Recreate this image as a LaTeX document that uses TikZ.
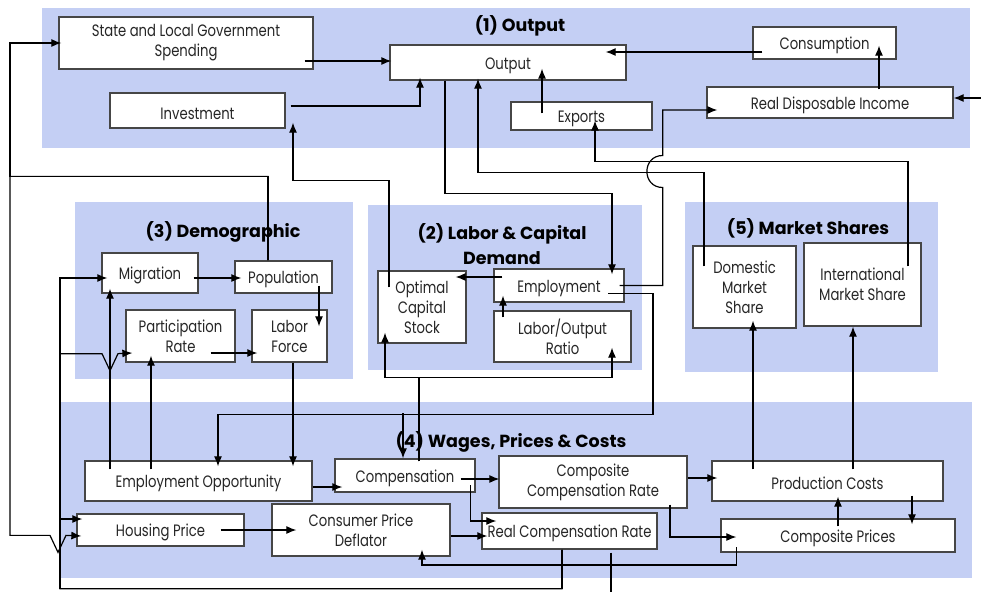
\documentclass[tikz,border=0pt]{standalone}
\usepackage{fontspec}
\setmainfont{Poppins}[FakeStretch=0.8]
\newfontfamily\headfont{Poppins}
\usetikzlibrary{shapes,positioning,calc}
\usetikzlibrary{arrows.meta}
\definecolor{sfondo}{RGB}{196,207,244}
\definecolor{bordo}{RGB}{70,70,70}
\tikzstyle{sector} = [rectangle, fill=sfondo, inner sep=0pt]
\tikzstyle{varbox} = [rectangle, text centered, align=center, draw=bordo, fill=white, line width=1.3pt, inner sep=1pt, text=black!85, font=\fontsize{16.5}{20}\selectfont, execute at begin node={\rule{0pt}{17.5pt}}]
\tikzstyle{heading} = [align=center, font=\headfont\bfseries\fontsize{17.5}{25}\selectfont]
\tikzstyle{arrow} = [line width=1.2pt,-{Latex[length=10pt,width=8pt]}]

\begin{document}
\begin{tikzpicture}[x=1pt,y=-1pt]
	\useasboundingbox (0,0) rectangle (981,591);
	\fill [white] (0,0) rectangle (981,591);
	\node (s1) at (506,78) [sector, minimum width=928, minimum height=140] {};
	\node (s3) at (214,290.5) [sector, minimum width=278, minimum height=177] {};
	\node (s2) at (505,287.5) [sector, minimum width=274, minimum height=165] {};
	\node (s5) at (811.5,287) [sector, minimum width=253, minimum height=170] {};
	\node (s4) at (516,490) [sector, minimum width=912, minimum height=176] {};
	\node (t1) at (520,26) [heading] {(1) Output};
	\node (t3) at (223,232) [heading] {(3) Demographic};
	\node (t2) at (502,244) [heading] {(2) Labor \& Capital\\Demand};
	\node (t5) at (808,228) [heading] {(5) Market Shares};
	\node (t4) at (511,442) [heading] {(4) Wages, Prices \& Costs};
	\node (slgs) at (186,43) [varbox, minimum width=254, minimum height=52] {State and Local Government\\Spending};
	\node (out) at (508,62.5) [varbox, minimum width=236, minimum height=35] {Output};
	\node (inv) at (197.5,110.5) [varbox, minimum width=175, minimum height=35] {Investment};
	\node (cons) at (824.5,43) [varbox, minimum width=143, minimum height=32] {Consumption};
	\node (rdi) at (830,102.5) [varbox, minimum width=246, minimum height=31] {Real Disposable Income};
	\node (exp) at (581.5,116) [varbox, minimum width=141, minimum height=28] {Exports};
	\node (migr) at (150,273) [varbox, minimum width=96, minimum height=40] {Migration};
	\node (pop) at (283.5,277) [varbox, minimum width=97, minimum height=32] {Population};
	\node (part) at (180.5,336) [varbox, minimum width=109, minimum height=52] {Participation\\Rate};
	\node (lf) at (289.5,336) [varbox, minimum width=75, minimum height=52] {Labor\\Force};
	\node (ocs) at (422,307) [varbox, minimum width=88, minimum height=72] {Optimal\\Capital\\Stock};
	\node (emp) at (559,285.5) [varbox, minimum width=130, minimum height=33] {Employment};
	\node (lor) at (562.5,336.5) [varbox, minimum width=137, minimum height=51] {Labor/Output\\Ratio};
	\node (dms) at (744.5,287) [varbox, minimum width=103, minimum height=82] {Domestic\\Market\\Share};
	\node (ims) at (862.5,284.5) [varbox, minimum width=117, minimum height=83] {International\\Market Share};
	\node (eo) at (198.5,481) [varbox, minimum width=227, minimum height=40] {Employment Opportunity};
	\node (comp) at (405,475.5) [varbox, minimum width=140, minimum height=33] {Compensation};
	\node (ccr) at (593,482) [varbox, minimum width=188, minimum height=52] {Composite\\Compensation Rate};
	\node (pc) at (827.5,481) [varbox, minimum width=231, minimum height=40] {Production Costs};
	\node (hp) at (160.5,530) [varbox, minimum width=167, minimum height=32] {Housing Price};
	\node (cpd) at (361,530) [varbox, minimum width=178, minimum height=52] {Consumer Price\\Deflator};
	\node (rcr) at (569.5,531) [varbox, minimum width=175, minimum height=36] {Real Compensation Rate};
	\node (cp) at (838,535.5) [varbox, minimum width=234, minimum height=33] {Composite Prices};
	\draw [arrow] ([xshift=-9pt,yshift=-18pt]slgs.east) -- ([xshift=2pt,yshift=1.5pt]out.west);
	\draw [arrow] ([xshift=5pt,yshift=4.5pt]inv.east) -| ([xshift=-88pt,yshift=3pt]out.south);
	\draw [arrow] ([xshift=-40.5pt,yshift=-21pt]dms.north) -- ++(0,-94) -| ([xshift=-30pt,yshift=2pt]out.south);
	\draw [arrow] ([xshift=45.5pt,yshift=-24pt]ims.north) -- ++(0,-105) -| ([xshift=13.5pt,yshift=10pt]exp.south);
	\draw [arrow] ([xshift=-63pt]out.south) -- ++(0,113) -| ([xshift=53pt,yshift=-6pt]emp.north);
	\draw [arrow] ([xshift=-5pt]emp.east) -- ++(43,0) -- ++(0,-98) .. controls +(-21,0) and +(-21,0) .. ++(0,-32) |- ([xshift=11pt,yshift=-7.5pt]rdi.west);
	\draw [arrow] ([xshift=49pt,yshift=9pt]emp.south) -- ++(45,0) -- ++(0,121) -| ([xshift=19.5pt,yshift=-6pt]eo.north);
	\draw [arrow] ([xshift=-2pt,yshift=45pt]comp.north) -- ([xshift=-2pt]comp.north);
	\draw [arrow] ([xshift=14pt,yshift=-3pt]comp.north) -- ++(0,-84) -| ([xshift=-37pt,yshift=11pt]ocs.south);
	\draw [arrow] ([xshift=14pt,yshift=-3pt]comp.north) -- ++(0,-84) -| ([xshift=49.5pt,yshift=15pt]lor.south);
	\draw [arrow] ([xshift=-59.5pt,yshift=-7pt]lor.north) -- ([xshift=-56pt,yshift=7pt]emp.south);
	\draw [arrow] ([xshift=9pt,yshift=8.5pt]emp.west) -- ([xshift=-11pt,yshift=30pt]ocs.east);
	\draw [arrow] ([xshift=-33pt,yshift=-17pt]ocs.north) -- ++(0,-107) -| ([xshift=95.5pt,yshift=6pt]inv.south);
	\draw [arrow] ([xshift=-15.5pt]pop.north) -- ++(0,-84) -- ++(-258,0) |- ([xshift=3pt]slgs.west);
	\draw [arrow] ([xshift=-15.5pt]pop.north) -- ++(0,-84) -- ++(-258,0) -- ++(0,359) -- ++(40,0) -- ++(8,17) -- ++(8,-17) -- ([xshift=5pt,yshift=-6pt]hp.west);
	\draw [arrow] ([xshift=-7.5pt]rcr.south) -- ++(0,39) -- ++(-502,0) |- ([xshift=6pt,yshift=-5pt]migr.west);
	\draw [arrow] ([xshift=-7.5pt]rcr.south) -- ++(0,39) -- ++(-502,0) -- ++(0,-235) -- ++(42,0) -- ++(8,17) -- ++(8,-17) -- ([xshift=7pt,yshift=-17pt]part.west);
	\draw [arrow] ([xshift=-7.5pt]rcr.south) -- ++(0,39) -- ++(-502,0) |- ([xshift=6pt,yshift=11pt]hp.west);
	\draw [line width=1.2pt] ([xshift=41.5pt,yshift=-3pt]rcr.south) -- ++(0,45);
	\draw [arrow] ([xshift=28pt,yshift=4.5pt]rdi.east) -- ([yshift=4.5pt]rdi.east);
	\draw [arrow] ([xshift=10pt,yshift=-9pt]cons.west) -- ([xshift=-21pt,yshift=10.5pt]out.east);
	\draw [arrow] ([xshift=49pt,yshift=-3pt]rdi.north) -- ([xshift=54.5pt,yshift=14pt]cons.south);
	\draw [arrow] ([xshift=-39.5pt,yshift=-12pt]exp.north) -- ([xshift=34pt,yshift=12pt]out.south);
	\draw [arrow] ([xshift=-5pt,yshift=-5pt]migr.east) -- ([xshift=7pt,yshift=-1pt]pop.west);
	\draw [arrow] ([xshift=35.5pt,yshift=8pt]pop.south) -- ([xshift=29.5pt,yshift=-17pt]lf.north);
	\draw [arrow] ([xshift=-25pt,yshift=-17pt]part.east) -- ([xshift=6pt,yshift=-17pt]lf.west);
	\draw [arrow] ([xshift=3.5pt]lf.south) -- ([xshift=94.5pt,yshift=-6pt]eo.north);
	\draw [arrow] ([xshift=-88.5pt,yshift=-9pt]eo.north) -- ([xshift=-40pt,yshift=5pt]migr.south);
	\draw [arrow] ([xshift=-47.5pt,yshift=-9pt]eo.north) -- ([xshift=-29.5pt,yshift=7pt]part.south);
	\draw [arrow] ([yshift=-6pt]eo.east) -- ([xshift=8pt,yshift=-11.5pt]comp.west);
	\draw [arrow] ([xshift=-15pt,yshift=-3.5pt]comp.east) -- ([xshift=1pt,yshift=3pt]ccr.west);
	\draw [arrow] ([xshift=-5pt,yshift=-9.5pt]comp.east) |- ([xshift=15pt,yshift=10pt]rcr.west);
	\draw [arrow] ([yshift=-6pt]cpd.east) -- ([xshift=6pt,yshift=-5pt]rcr.west);
	\draw [arrow] ([xshift=-24pt]hp.east) -- ([xshift=25pt]cpd.west);
	\draw [arrow] ([xshift=16pt,yshift=-11.5pt]cp.west) -- ++(0,18) -| ([xshift=61pt,yshift=7pt]cpd.south);
	\draw [arrow] ([yshift=4pt]ccr.east) -- ([xshift=6pt,yshift=3pt]pc.west);
	\draw [arrow] ([xshift=77pt,yshift=4pt]ccr.south) |- ([xshift=16pt,yshift=-1.5pt]cp.west);
	\draw [arrow] ([xshift=84.5pt,yshift=6pt]pc.south) -- ([xshift=74pt,yshift=-6pt]cp.north);
	\draw [arrow] ([yshift=-8pt]cp.north) -- ([xshift=10.5pt,yshift=5pt]pc.south);
	\draw [arrow] ([xshift=-74.5pt,yshift=-9pt]pc.north) -- ([xshift=8.5pt,yshift=8pt]dms.south);
	\draw [arrow] ([xshift=25.5pt,yshift=-9pt]pc.north) -- ([xshift=-9.5pt]ims.south);
\end{tikzpicture}
\end{document}
